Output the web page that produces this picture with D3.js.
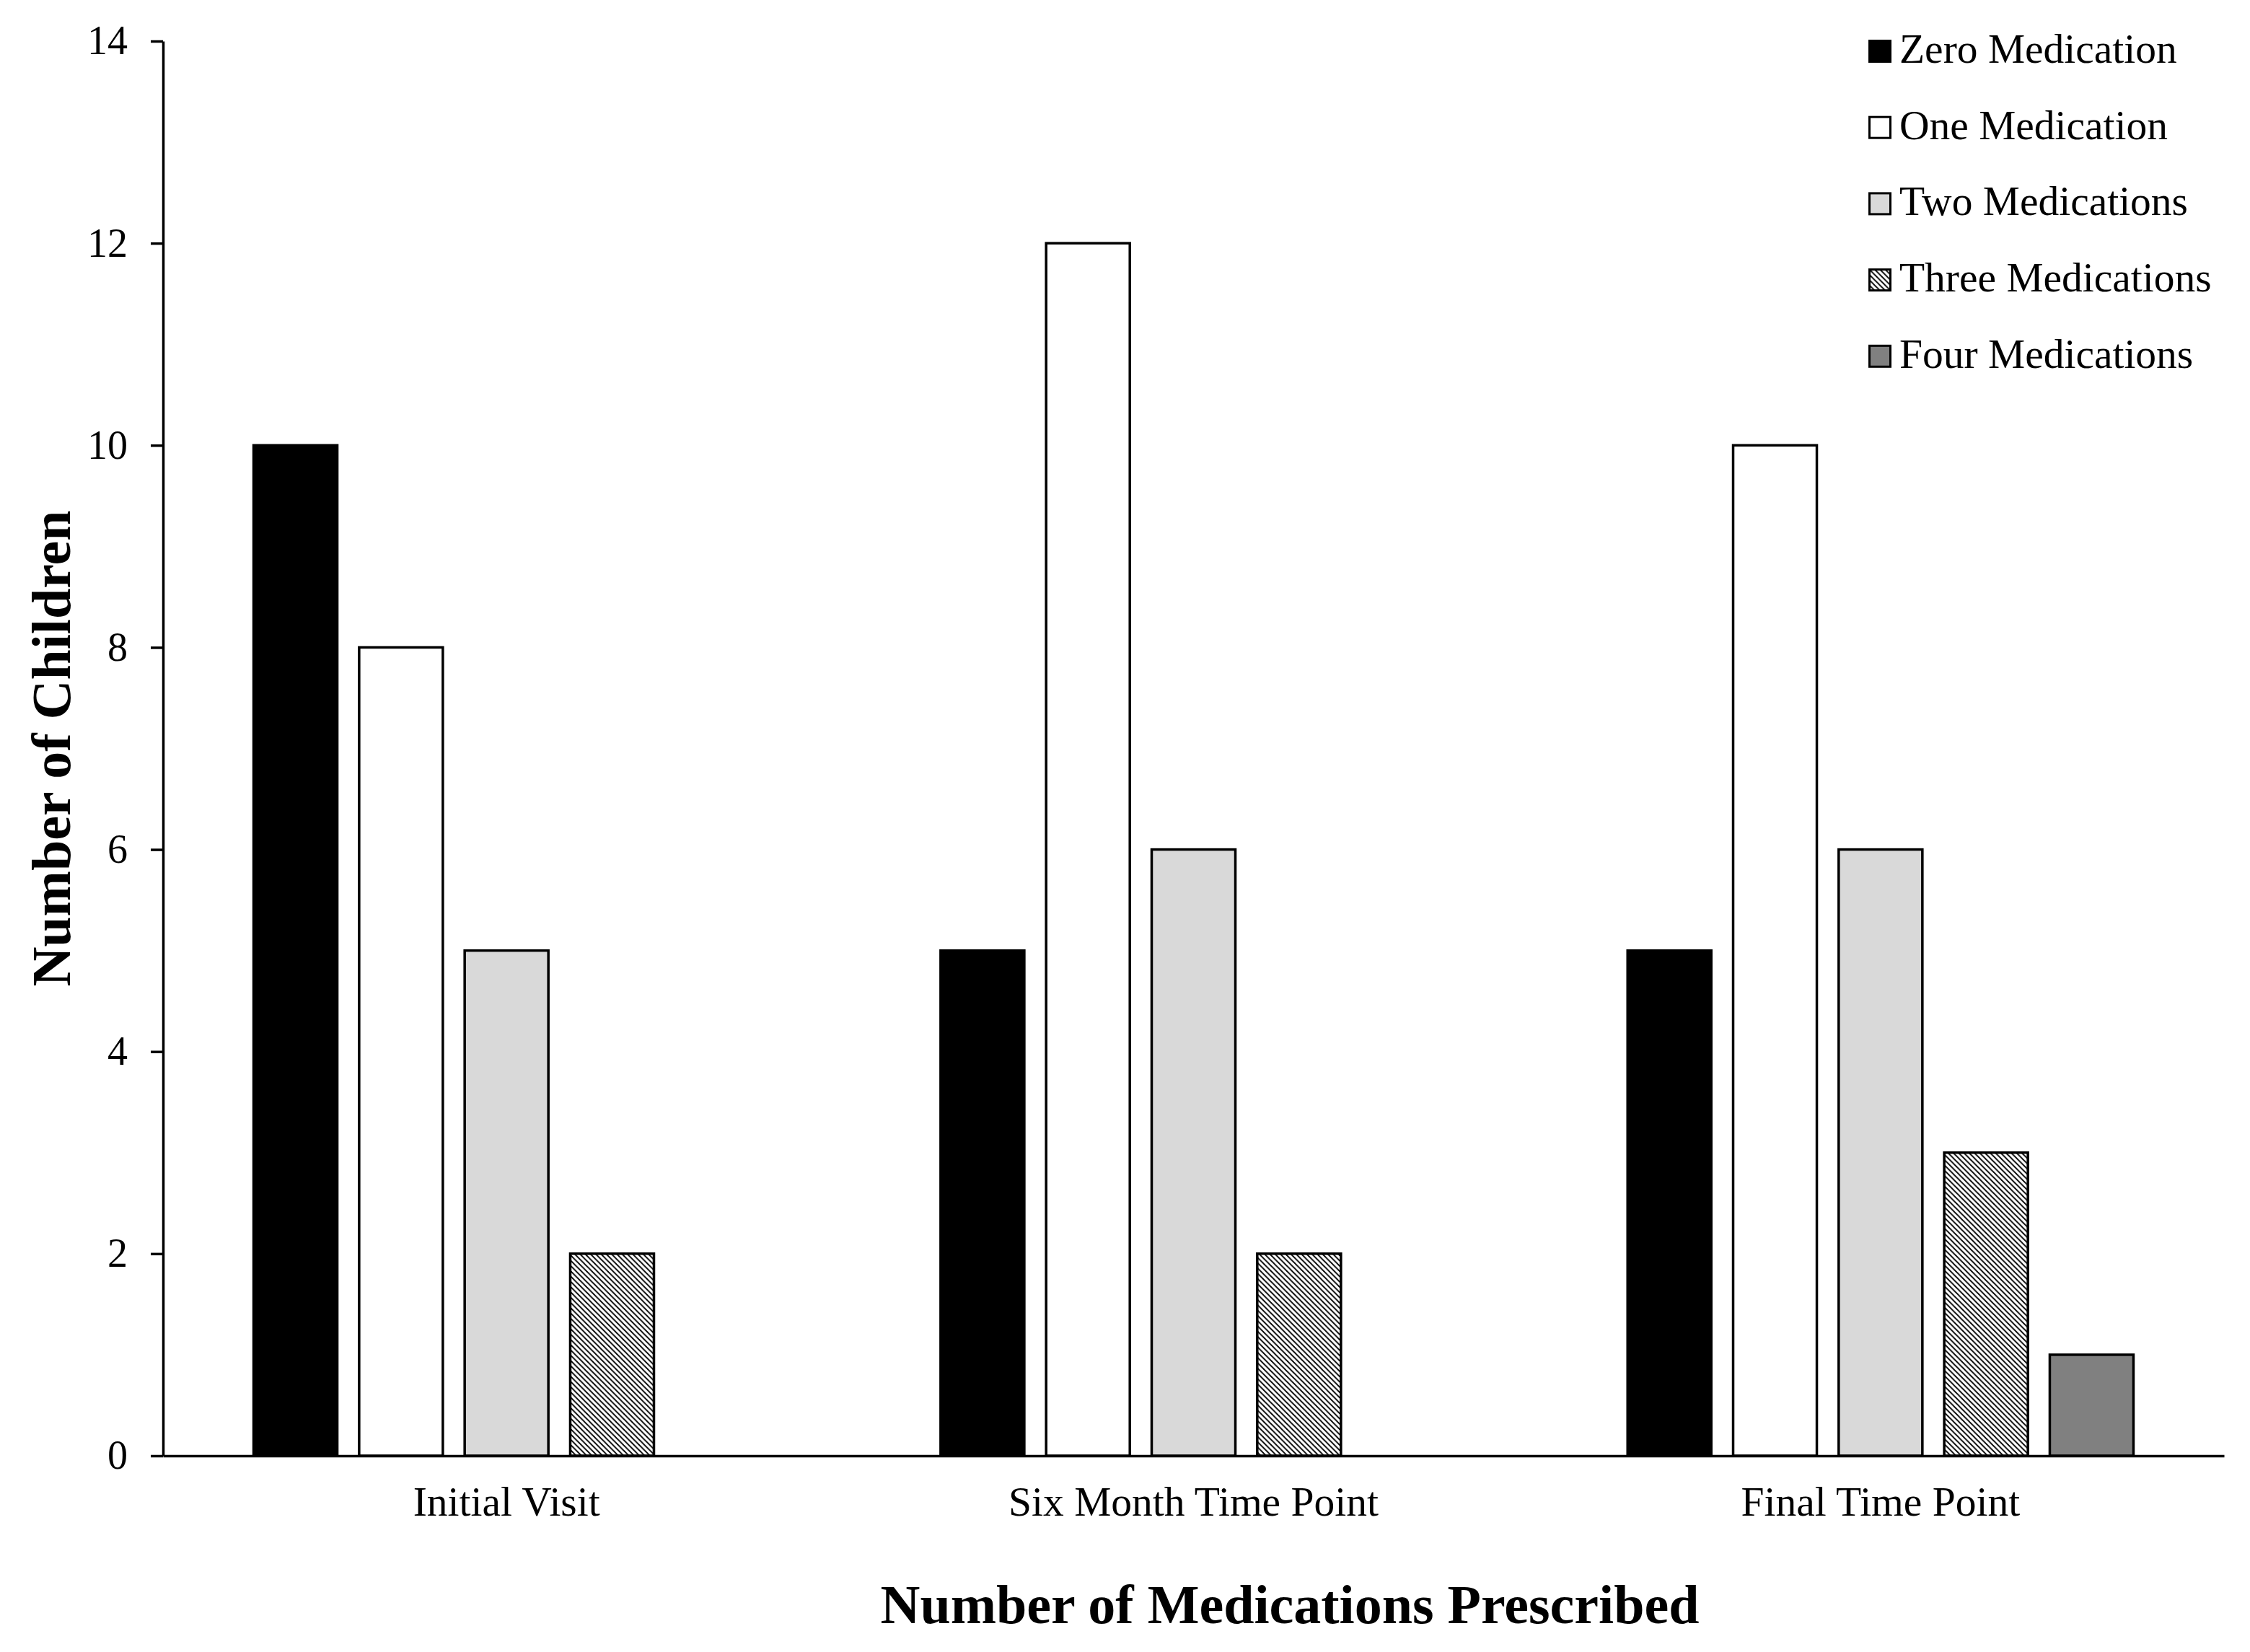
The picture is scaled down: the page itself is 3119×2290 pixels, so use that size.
<!DOCTYPE html>
<html>
<head>
<meta charset="utf-8">
<script src="https://cdn.jsdelivr.net/npm/d3@7"></script>
<style>
  html, body { margin: 0; padding: 0; background: #fff; }
  text { font-family: "Liberation Serif", "Times New Roman", serif; fill: #000; }
</style>
</head>
<body>
<div id="chart"></div>
<script>
// bar chart: medications prescribed per time point

const timePoints = ["Initial Visit", "Six Month Time Point", "Final Time Point"];
const seriesNames = ["Zero Medication", "One Medication", "Two Medications", "Three Medications", "Four Medications"];
const zeroMed = [10, 5, 5];
const oneMed = [8, 12, 10];
const twoMed = [5, 6, 6];
const threeMed = [2, 2, 3];
const fourMed = [0, 0, 1];
const yTicks = [0, 2, 4, 6, 8, 10, 12, 14];

const seriesValues = [zeroMed, oneMed, twoMed, threeMed, fourMed];
const fills = ["#000000", "#ffffff", "#d9d9d9", "url(#hatch)", "#808080"];

const width = 3119, height = 2290;
const margin = { top: 57, right: 36, bottom: 272, left: 226 };

const svg = d3.select("#chart").append("svg")
    .attr("width", width).attr("height", height);

// dense downward diagonal hatch
const pat = svg.append("defs").append("pattern")
    .attr("id", "hatch").attr("patternUnits", "userSpaceOnUse")
    .attr("width", 7.3).attr("height", 7.3);
pat.append("rect").attr("width", 7.3).attr("height", 7.3).attr("fill", "#fff");
pat.append("path")
    .attr("d", "M0,0L7.3,7.3M-1.5,5.8L1.5,8.8M5.8,-1.5L8.8,1.5")
    .attr("stroke", "#000").attr("stroke-width", 1.8);

const x0 = d3.scaleBand().domain(timePoints)
    .range([margin.left, width - margin.right]).paddingInner(0).paddingOuter(0);
const x1 = d3.scaleBand().domain(seriesNames)
    .range([0, x0.bandwidth()]).paddingInner(0.207).paddingOuter(0.858);
const y = d3.scaleLinear().domain([0, 14]).range([height - margin.bottom, margin.top]);

// bars
const rows = [];
seriesNames.forEach((s, si) => {
    timePoints.forEach((t, ti) => {
        rows.push({ series: s, si: si, time: t, value: seriesValues[si][ti] });
    });
});

svg.append("g").selectAll("rect")
    .data(rows.filter(d => d.value > 0))
    .enter().append("rect")
    .attr("x", d => x0(d.time) + x1(d.series))
    .attr("y", d => y(d.value))
    .attr("width", x1.bandwidth())
    .attr("height", d => y(0) - y(d.value))
    .attr("fill", d => fills[d.si])
    .attr("stroke", "#000")
    .attr("stroke-width", 3.5);

// y axis
const yAxis = svg.append("g")
    .attr("transform", `translate(${margin.left},0)`)
    .call(d3.axisLeft(y).tickValues(yTicks).tickSize(17).tickPadding(32).tickSizeOuter(0));
yAxis.select(".domain").attr("stroke", "#000").attr("stroke-width", 3.5);
yAxis.selectAll(".tick line").attr("stroke", "#000").attr("stroke-width", 3.5);
yAxis.selectAll(".tick text")
    .style("font-family", "'Liberation Serif', serif")
    .style("font-size", "56px").attr("fill", "#000");

// x axis
const xAxis = svg.append("g")
    .attr("transform", `translate(0,${y(0)})`)
    .call(d3.axisBottom(x0).tickSize(0).tickPadding(0).tickSizeOuter(0));
xAxis.select(".domain").attr("stroke", "#000").attr("stroke-width", 3.5);
xAxis.selectAll(".tick text")
    .attr("dy", null).attr("y", 83)
    .style("font-family", "'Liberation Serif', serif")
    .style("font-size", "57.5px").attr("fill", "#000");

// axis titles
svg.append("text")
    .attr("x", 1788).attr("y", 2250)
    .attr("text-anchor", "middle")
    .style("font-size", "76px").style("font-weight", "bold")
    .text("Number of Medications Prescribed");

svg.append("text")
    .attr("transform", `translate(97,${(y(0) + y(14)) / 2}) rotate(-90)`)
    .attr("text-anchor", "middle")
    .style("font-size", "76px").style("font-weight", "bold")
    .text("Number of Children");

// legend
const legend = svg.append("g").attr("transform", "translate(2590,55)");
const item = legend.selectAll("g").data(seriesNames).enter().append("g")
    .attr("transform", (d, i) => `translate(0,${i * 105.7})`);
item.append("rect")
    .attr("x", 1.5).attr("y", 1.5).attr("width", 29).attr("height", 29)
    .attr("fill", (d, i) => fills[i])
    .attr("stroke", "#000").attr("stroke-width", 3);
item.append("text")
    .attr("x", 43).attr("y", 32)
    .style("font-size", "57.5px")
    .text(d => d);
</script>
</body>
</html>
